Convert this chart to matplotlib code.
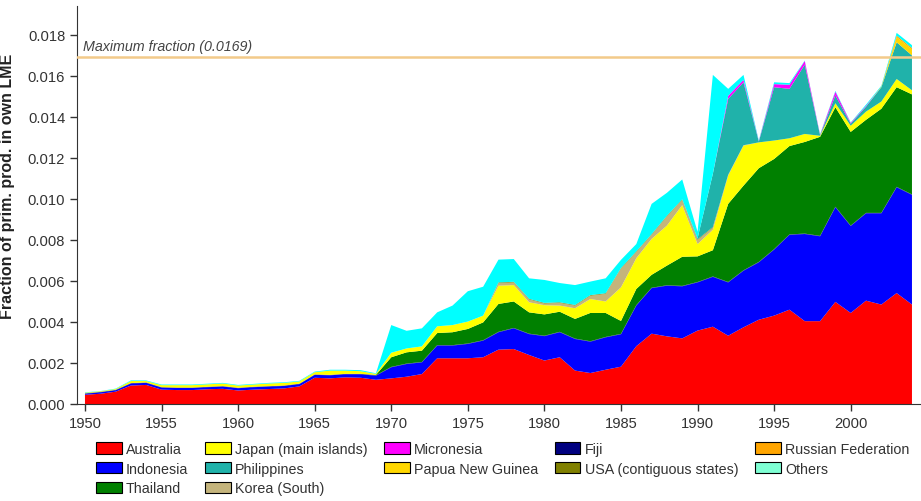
import numpy as np
import matplotlib
matplotlib.use("Agg")
import matplotlib.pyplot as plt
from matplotlib.patches import Patch

plt.rcParams["font.family"] = ["Liberation Sans", "DejaVu Sans"]

# fraction of primary production per fishing country, in units of 1e-5
years = np.arange(1950, 2005)
scale = 1e-5
australia = [45, 50, 60, 90, 93, 70, 68, 68, 72, 74,
             66, 70, 73, 76, 86, 128, 125, 130, 128, 118,
             125, 133, 146, 223, 223, 223, 228, 265, 268, 239,
             212, 228, 163, 151, 167, 182, 282, 343, 330, 320,
             358, 377, 333, 374, 411, 431, 460, 404, 404, 498,
             444, 504, 485, 541, 485]
indonesia = [5, 7, 7, 10, 10, 10, 10, 10, 10, 11,
             11, 12, 12, 12, 11, 14, 15, 15, 17, 20,
             54, 62, 57, 62, 62, 70, 81, 85, 101, 102,
             119, 122, 154, 153, 158, 158, 198, 222, 247, 254,
             235, 243, 260, 276, 280, 322, 365, 425, 414, 462,
             424, 426, 445, 516, 535]
fiji = [2] * 55
thailand = [0] * 19 + [2] + [47, 55, 55, 59, 63, 71, 87, 136, 129, 104,
                             104, 98, 96, 138, 117, 63, 79, 63, 96, 142,
                             125, 128, 381, 413, 457, 440, 431, 447, 483, 485,
                             457, 454, 508, 486, 488]
japan = [3, 3, 4, 10, 7, 10, 12, 12, 12, 13,
         11, 11, 13, 13, 11, 11, 21, 16, 13, 5,
         22, 19, 21, 33, 35, 36, 33, 89, 80, 49,
         45, 30, 52, 68, 56, 164, 150, 175, 195, 252,
         60, 100, 138, 195, 126, 90, 38, 39, 5, 20,
         30, 40, 35, 40, 20]
korea = [0] * 27 + [13, 13, 14, 8, 13, 13, 16, 37, 91, 30, 20, 45, 25,
                    20, 10, 4, 2] + [0] * 11
usa = [0] * 27 + [3] * 15 + [0] * 13
philippines = [0] * 40 + [5, 260, 370, 307, 4, 260, 241, 338, 3, 38,
                          10, 24, 70, 179, 170]
micronesia = [0] * 42 + [15, 12, 2, 15, 20, 18, 2, 18, 4, 4] + [0] * 3
png = [0] * 52 + [3, 25, 30]
russia = [0] * 53 + [8, 6]
others = [2, 1, 2, 3, 3, 3, 3, 3, 3, 3,
          3, 3, 3, 3, 3, 3, 4, 4, 5, 3,
          135, 86, 88, 68, 95, 148, 141, 111, 111, 100,
          112, 94, 97, 66, 73, 40, 36, 148, 112, 97,
          32, 482, 34, 24, 3, 9, 8, 2, 2, 4,
          2, 6, 4, 13, 14]
max_fraction = 0.0169

# stacking order, bottom to top
layers = [
    ("Australia", australia, "#ff0000"),
    ("Indonesia", indonesia, "#0000ff"),
    ("Fiji", fiji, "#000080"),
    ("Thailand", thailand, "#008000"),
    ("Japan (main islands)", japan, "#ffff00"),
    ("Korea (South)", korea, "#c4b47c"),
    ("USA (contiguous states)", usa, "#808000"),
    ("Philippines", philippines, "#20b2aa"),
    ("Micronesia", micronesia, "#ff00ff"),
    ("Papua New Guinea", png, "#ffd700"),
    ("Russian Federation", russia, "#ffa500"),
    ("Others", others, "#00ffff"),
]

fig = plt.figure(figsize=(9.21, 5.02), dpi=100)
ax = fig.add_axes([77 / 921, 97 / 502, 844 / 921, 398 / 502])

ax.stackplot(years, [np.array(v) * scale for _, v, _ in layers],
             colors=[c for _, _, c in layers], linewidth=0)

ax.axhline(max_fraction, color="#f3ca8a", lw=1.8, zorder=3)
ax.annotate(f"Maximum fraction ({max_fraction})", (1949.9, max_fraction),
            xytext=(0, 3), textcoords="offset points", fontsize=10.3,
            style="italic", color="#444444", va="bottom", ha="left")

ax.set_xlim(1949.48, 2004.59)
ax.set_ylim(0, 0.01941)
ax.set_xticks(np.arange(1950, 2001, 5))
ax.set_yticks(np.arange(0, 0.0181, 0.002))
ax.yaxis.set_major_formatter(matplotlib.ticker.FormatStrFormatter("%.3f"))
ax.tick_params(direction="out", length=5, width=1, colors="#333333",
               labelsize=10.6, labelcolor="#333333")
for side in ("top", "right"):
    ax.spines[side].set_visible(False)
for side in ("left", "bottom"):
    ax.spines[side].set_color("#333333")
ax.set_ylabel("Fraction of prim. prod. in own LME", fontsize=11.5,
              fontweight="bold", color="#222222")
ax.yaxis.set_label_coords(-0.0735, 0.55)

# legend lists countries column by column; "Others" swatch is paler
order = ["Australia", "Indonesia", "Thailand",
         "Japan (main islands)", "Philippines", "Korea (South)",
         "Micronesia", "Papua New Guinea",
         "Fiji", "USA (contiguous states)",
         "Russian Federation", "Others"]
colour_of = {n: c for n, _, c in layers}
colour_of["Others"] = "#7fffd4"
handles = [Patch(facecolor=colour_of[n], edgecolor="black", linewidth=0.8,
                 label=n) for n in order]
fig.legend(handles=handles, ncol=5, loc="upper left",
           bbox_to_anchor=(96 / 921, 1 - 443 / 502), frameon=False,
           fontsize=10.3, handlelength=1.8, handleheight=0.85,
           handletextpad=0.3, columnspacing=1.15, labelspacing=0.4,
           borderpad=0, borderaxespad=0, labelcolor="#333333")

fig.savefig("out.png", dpi=100)
plt.close(fig)
